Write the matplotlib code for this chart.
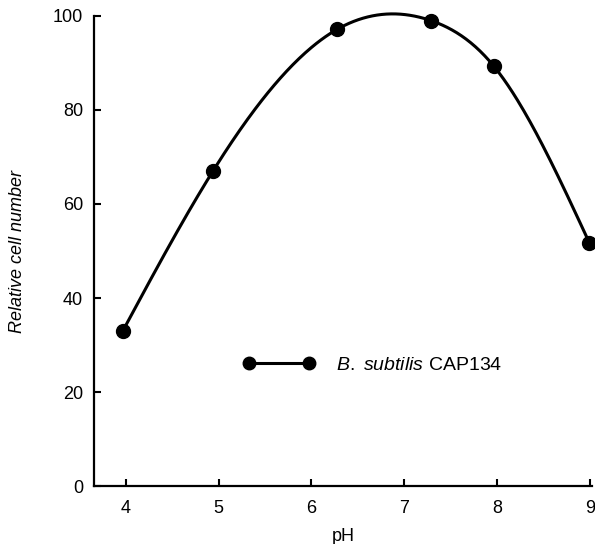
import numpy as np
import matplotlib
matplotlib.use("Agg")
import matplotlib.pyplot as plt

# values
ph = [3.97, 4.94, 6.28, 7.29, 7.96, 8.99]
cells = [33.0, 67.0, 97.2, 99.0, 89.4, 51.8]
xticks = [4, 5, 6, 7, 8, 9]
yticks = [0, 20, 40, 60, 80, 100]
strain = r"$\it{B.\ subtilis}$ CAP134"


def natural_spline(x, y, xs):
    # plain natural cubic spline, no scipy needed
    x = np.asarray(x, float)
    y = np.asarray(y, float)
    n = len(x)
    h = np.diff(x)
    A = np.zeros((n, n))
    b = np.zeros(n)
    A[0, 0] = 1
    A[-1, -1] = 1
    for i in range(1, n - 1):
        A[i, i - 1] = h[i - 1]
        A[i, i] = 2 * (h[i - 1] + h[i])
        A[i, i + 1] = h[i]
        b[i] = 3 * ((y[i + 1] - y[i]) / h[i] - (y[i] - y[i - 1]) / h[i - 1])
    c = np.linalg.solve(A, b)
    out = np.empty_like(xs)
    for k, xv in enumerate(xs):
        i = min(max(np.searchsorted(x, xv) - 1, 0), n - 2)
        d = xv - x[i]
        bi = (y[i + 1] - y[i]) / h[i] - h[i] * (2 * c[i] + c[i + 1]) / 3
        di = (c[i + 1] - c[i]) / (3 * h[i])
        out[k] = y[i] + bi * d + c[i] * d ** 2 + di * d ** 3
    return out


plt.rcParams["font.family"] = ["Liberation Sans", "DejaVu Sans"]
plt.rcParams["mathtext.fontset"] = "custom"
plt.rcParams["mathtext.rm"] = "Liberation Sans"
plt.rcParams["mathtext.it"] = "Liberation Sans:italic"

fig = plt.figure(figsize=(5.95, 5.44), dpi=100)
ax = fig.add_axes([0.158, 0.1066, 0.837, 0.864])

xs = np.linspace(ph[0], ph[-1], 300)
ax.plot(xs, natural_spline(ph, cells, xs), color="black", lw=2.2,
        solid_capstyle="round", clip_on=False)
ax.plot(ph, cells, "o", color="black", ms=10, clip_on=False)

# legend proxy
ax.plot([], [], "-o", color="black", lw=2.2, ms=9, label=strain)
ax.legend(loc="center left", bbox_to_anchor=(0.299, 0.257), frameon=False,
          numpoints=2, handlelength=3.7, handletextpad=1.1, borderpad=0,
          borderaxespad=0, fontsize=14)

ax.set_xlim(3.66, 9.02)
ax.set_ylim(0, 100)
ax.set_xticks(xticks)
ax.set_yticks(yticks)
ax.tick_params(direction="in", length=5, width=1.5, labelsize=13)
ax.tick_params(axis="x", pad=10)
ax.tick_params(axis="y", pad=8)
for s in ["top", "right"]:
    ax.spines[s].set_visible(False)
for s in ["left", "bottom"]:
    ax.spines[s].set_linewidth(1.6)

ax.set_xlabel("pH", fontsize=13, labelpad=8)
ax.set_ylabel("Relative cell number", fontsize=13, style="italic", labelpad=19)

fig.savefig("out.png", dpi=100)
